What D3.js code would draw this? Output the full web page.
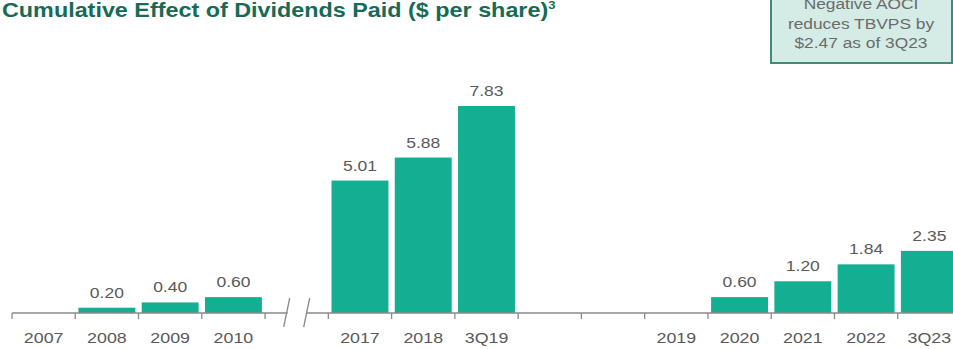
<!DOCTYPE html>
<html>
<head>
<meta charset="utf-8">
<script src="https://cdn.jsdelivr.net/npm/d3@7/dist/d3.min.js"></script>
<style>
  html, body { margin: 0; padding: 0; background: #ffffff; overflow: hidden; }
  svg { display: block; font-family: Arial, "Liberation Sans", Helvetica, sans-serif; }
</style>
</head>
<body>
<svg id="chart" width="953" height="349"></svg>
<script>
// Category slots along the axis ("" = empty slot; the slot at breakIndex holds the axis break)
const categories = ["2007", "2008", "2009", "2010", "", "2017", "2018", "3Q19", "", "", "2019", "2020", "2021", "2022", "3Q23"];
// Cumulative dividends paid, $ per share (null = no bar)
const values = [null, 0.20, 0.40, 0.60, null, 5.01, 5.88, 7.83, null, null, null, 0.60, 1.20, 1.84, 2.35];
const breakIndex = 4;
const titleText = "Cumulative Effect of Dividends Paid ($ per share)";
const titleNote = "3";
const calloutLines = ["Negative AOCI", "reduces TBVPS by", "$2.47 as of 3Q23"];

const W = 953, H = 349;
const baseline = 313;
const textStretch = 1.15;

const svg = d3.select("#chart");

const x = d3.scaleBand()
  .domain(d3.range(categories.length))
  .range([12, 961])
  .paddingInner(0.1)
  .paddingOuter(0.05);

const y = d3.scaleLinear()
  .domain([0, 7.83])
  .range([baseline, 106]);

const step = x.step();
const edge = i => x(i) - step * 0.05;   // left boundary of a slot
const mid = i => x(i) + x.bandwidth() / 2;

// Text helper: horizontally widened glyphs
function stretchedText(g, px, py, str, opts) {
  return g.append("text")
    .attr("transform", `translate(${px},${py}) scale(${opts.sx || textStretch},1)`)
    .attr("text-anchor", opts.anchor || "middle")
    .attr("font-size", opts.size)
    .attr("font-weight", opts.weight || "normal")
    .attr("fill", opts.fill)
    .text(str);
}

// Title
const title = stretchedText(svg, 2, 17, titleText, { anchor: "start", size: 19.8, weight: "bold", fill: "#156b55", sx: 1.18 });
title.append("tspan")
  .attr("font-size", 11)
  .attr("dy", -8)
  .text(titleNote);

// Callout box (top right)
const box = svg.append("g");
box.append("rect")
  .attr("x", 771)
  .attr("y", -20)
  .attr("width", 181)
  .attr("height", 83)
  .attr("fill", "#d5ebe6")
  .attr("stroke", "#3e8c79")
  .attr("stroke-width", 2);
calloutLines.forEach((line, i) => {
  stretchedText(box, 861, 9 + i * 19.5, line, { size: 15.5, fill: "#6b6b6b", sx: 1.12 });
});

// Bars
const barData = values.map((v, i) => ({ i, v })).filter(d => d.v !== null);
svg.append("g").selectAll("rect")
  .data(barData)
  .join("rect")
  .attr("x", d => x(d.i))
  .attr("width", x.bandwidth())
  .attr("y", d => y(d.v))
  .attr("height", d => y(0) - y(d.v))
  .attr("fill", "#14ae93");

// Value labels
const labels = svg.append("g");
barData.forEach(d => {
  stretchedText(labels, mid(d.i), y(d.v) - 10, d.v.toFixed(2), { size: 15.5, fill: "#595959", sx: 1.13 });
});

// Axis line with break
const axisColor = "#8a8a8a";
const brkMid = mid(breakIndex);
const axis = svg.append("g").attr("stroke", axisColor).attr("stroke-width", 1.3).attr("fill", "none");
axis.append("line").attr("x1", edge(0)).attr("x2", brkMid - 9).attr("y1", baseline).attr("y2", baseline);
axis.append("line").attr("x1", brkMid + 10).attr("x2", W).attr("y1", baseline).attr("y2", baseline);
// break slashes
[-10, 10].forEach(off => {
  axis.append("line")
    .attr("x1", brkMid + off + 3).attr("y1", baseline - 15)
    .attr("x2", brkMid + off - 3).attr("y2", baseline + 14);
});
// tick marks at slot boundaries
categories.forEach((c, i) => {
  axis.append("line")
    .attr("x1", edge(i)).attr("x2", edge(i))
    .attr("y1", baseline).attr("y2", baseline + 6);
});

// Category labels
const cats = svg.append("g");
categories.forEach((c, i) => {
  if (c) stretchedText(cats, mid(i), 343, c, { size: 15.5, fill: "#595959", sx: 1.15 });
});
</script>
</body>
</html>
